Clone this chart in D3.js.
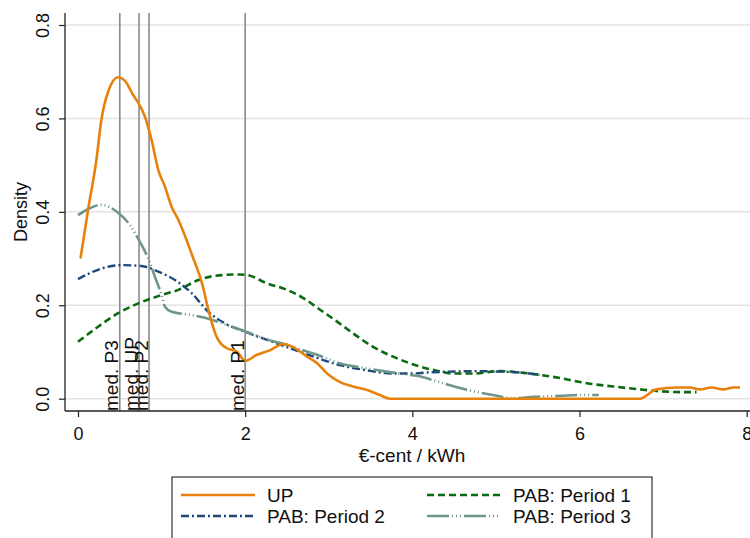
<!DOCTYPE html>
<html>
<head>
<meta charset="utf-8">
<script src="https://cdn.jsdelivr.net/npm/d3@7"></script>
<style>
  html, body { margin: 0; padding: 0; background: #fff; }
  svg { display: block; font-family: "Liberation Sans", Arial, Helvetica, sans-serif; }
</style>
</head>
<body>
<svg id="chart" width="750" height="538"></svg>
<script>
// Kernel density estimates of prices (€-cent / kWh)
const upX = [0.03, 0.12, 0.22, 0.28, 0.36, 0.48, 0.56, 0.66, 0.72, 0.80, 0.88, 0.96, 1.04, 1.12, 1.20, 1.37, 1.49, 1.57, 1.65, 1.78, 1.90, 2.00, 2.14, 2.30, 2.46, 2.58, 2.74, 2.86, 2.98, 3.13, 3.29, 3.45, 3.61, 3.73, 6.72, 6.92, 7.16, 7.32, 7.44, 7.58, 7.72, 7.84, 7.92];
const upY = [0.300, 0.404, 0.511, 0.597, 0.657, 0.688, 0.681, 0.650, 0.634, 0.604, 0.554, 0.490, 0.454, 0.411, 0.383, 0.305, 0.243, 0.183, 0.136, 0.108, 0.101, 0.081, 0.094, 0.104, 0.117, 0.110, 0.090, 0.076, 0.054, 0.036, 0.026, 0.019, 0.008, 0.000, 0.000, 0.020, 0.024, 0.024, 0.020, 0.024, 0.020, 0.024, 0.024];

const p1X = [0.00, 0.24, 0.48, 0.72, 1.00, 1.20, 1.44, 1.64, 1.92, 2.02, 2.26, 2.50, 2.70, 2.90, 3.10, 3.29, 3.53, 3.77, 4.05, 4.29, 4.49, 4.73, 5.05, 5.29, 5.53, 5.77, 6.09, 6.41, 6.72, 6.96, 7.20, 7.40];
const p1Y = [0.122, 0.154, 0.183, 0.204, 0.222, 0.233, 0.254, 0.263, 0.266, 0.265, 0.247, 0.233, 0.215, 0.190, 0.165, 0.140, 0.111, 0.090, 0.071, 0.060, 0.054, 0.054, 0.059, 0.056, 0.051, 0.044, 0.033, 0.026, 0.020, 0.016, 0.014, 0.014];

const p2X = [0.00, 0.24, 0.52, 0.76, 0.96, 1.16, 1.36, 1.56, 1.76, 2.00, 2.26, 2.54, 2.82, 3.13, 3.45, 3.77, 4.01, 4.17, 4.45, 4.73, 5.05, 5.29, 5.52];
const p2Y = [0.256, 0.276, 0.286, 0.284, 0.272, 0.254, 0.226, 0.186, 0.161, 0.143, 0.126, 0.108, 0.090, 0.072, 0.061, 0.054, 0.054, 0.056, 0.058, 0.059, 0.058, 0.056, 0.051];

const p3X = [0.00, 0.10, 0.28, 0.48, 0.62, 0.74, 0.84, 0.92, 1.00, 1.04, 1.12, 1.36, 1.60, 1.84, 2.02, 2.26, 2.42, 2.58, 2.86, 3.13, 3.45, 3.69, 3.97, 4.05, 4.37, 4.65, 4.93, 5.21, 5.45, 5.77, 6.01, 6.23];
const p3Y = [0.393, 0.404, 0.415, 0.398, 0.372, 0.336, 0.300, 0.261, 0.222, 0.197, 0.186, 0.179, 0.169, 0.154, 0.143, 0.127, 0.119, 0.110, 0.094, 0.076, 0.065, 0.058, 0.051, 0.049, 0.033, 0.019, 0.009, 0.001, 0.004, 0.006, 0.008, 0.008];

// Medians of each price distribution
const medianValues = [0.50, 0.73, 0.85, 2.00];
const medianLabels = ["med. P3", "med. UP", "med. P2", "med. P1"];

const xTicks = [0, 2, 4, 6, 8];
const yTicks = [0, 0.2, 0.4, 0.6, 0.8];

const seriesNames = ["UP", "PAB: Period 1", "PAB: Period 2", "PAB: Period 3"];

const svg = d3.select("#chart");
const W = 750;
const plotLeft = 65, plotRight = 750, plotTop = 13, plotBottom = 411;

const x = d3.scaleLinear().domain([0, 8]).range([78, 746.7]);
const y = d3.scaleLinear().domain([0, 0.8]).range([398.7, 25]);

const styles = [
  { color: "#e8810c", dash: null, width: 2.6 },
  { color: "#0b6a10", dash: "7,4", width: 2.6 },
  { color: "#1d4a78", dash: "8,3,2,3", width: 2.4 },
  { color: "#6f968b", dash: "22,3,1,3,1,3,1,3", width: 2.6 }
];

// Horizontal gridlines
svg.append("g").selectAll("line").data(yTicks).join("line")
  .attr("x1", plotLeft).attr("x2", plotRight)
  .attr("y1", d => y(d)).attr("y2", d => y(d))
  .attr("stroke", "#e3e3e3").attr("stroke-width", 1.5);

// Median reference lines
svg.append("g").selectAll("line").data(medianValues).join("line")
  .attr("x1", d => x(d)).attr("x2", d => x(d))
  .attr("y1", plotTop).attr("y2", plotBottom)
  .attr("stroke", "#8a8a8a").attr("stroke-width", 1.6);

// Density curves
const seriesData = [
  d3.zip(upX, upY),
  d3.zip(p1X, p1Y),
  d3.zip(p2X, p2Y),
  d3.zip(p3X, p3Y)
];
const line = d3.line().x(d => x(d[0])).y(d => y(d[1])).curve(d3.curveMonotoneX);

// Draw order: period 1, period 2, period 3, then UP on top
[1, 2, 3, 0].forEach(i => {
  svg.append("path")
    .datum(seriesData[i])
    .attr("d", line)
    .attr("fill", "none")
    .attr("stroke", styles[i].color)
    .attr("stroke-width", styles[i].width)
    .attr("stroke-dasharray", styles[i].dash)
    .attr("stroke-linejoin", "round");
});

// Median labels (rotated, reading upward from the x axis)
svg.append("g").selectAll("text").data(medianValues).join("text")
  .attr("transform", d => `translate(${x(d) - 1.5},${plotBottom}) rotate(-90)`)
  .attr("text-anchor", "start")
  .attr("font-size", 19)
  .attr("fill", "#111")
  .text((d, i) => medianLabels[i]);

// Axes
const yAxis = svg.append("g")
  .attr("transform", `translate(${plotLeft},0)`)
  .call(d3.axisLeft(y).tickValues(yTicks).tickFormat(d3.format(".1f")).tickSize(6).tickSizeOuter(0));
yAxis.select(".domain").remove();
yAxis.selectAll(".tick line").attr("stroke", "#222").attr("stroke-width", 1.2);
yAxis.selectAll(".tick text")
  .attr("x", 0).attr("dy", 0)
  .attr("text-anchor", "middle")
  .attr("transform", "translate(-16,0) rotate(-90)")
  .attr("font-size", 18)
  .attr("font-family", "Liberation Sans, Arial, sans-serif")
  .attr("fill", "#111");

const xAxis = svg.append("g")
  .attr("transform", `translate(0,${plotBottom})`)
  .call(d3.axisBottom(x).tickValues(xTicks).tickFormat(d3.format("d")).tickSize(6).tickSizeOuter(0));
xAxis.select(".domain").remove();
xAxis.selectAll(".tick line").attr("stroke", "#222").attr("stroke-width", 1.2);
xAxis.selectAll(".tick text")
  .attr("y", 16).attr("dy", "0.71em")
  .attr("font-size", 18)
  .attr("font-family", "Liberation Sans, Arial, sans-serif")
  .attr("fill", "#111");

// Axis lines
svg.append("line").attr("x1", plotLeft).attr("x2", plotLeft)
  .attr("y1", plotTop).attr("y2", plotBottom)
  .attr("stroke", "#222").attr("stroke-width", 1.3);
svg.append("line").attr("x1", plotLeft).attr("x2", plotRight)
  .attr("y1", plotBottom).attr("y2", plotBottom)
  .attr("stroke", "#222").attr("stroke-width", 1.3);

// Axis titles
svg.append("text")
  .attr("x", 412).attr("y", 462)
  .attr("text-anchor", "middle")
  .attr("font-size", 19)
  .attr("fill", "#111")
  .text("€-cent / kWh");

svg.append("text")
  .attr("transform", `translate(27,${(plotTop + plotBottom) / 2}) rotate(-90)`)
  .attr("text-anchor", "middle")
  .attr("font-size", 18)
  .attr("fill", "#111")
  .text("Density");

// Legend
const legend = svg.append("g");
legend.append("rect")
  .attr("x", 172).attr("y", 477)
  .attr("width", 480).attr("height", 80)
  .attr("fill", "#fff").attr("stroke", "#333").attr("stroke-width", 1.2);

const legendPos = [
  { lx: 181, ty: 495 },
  { lx: 427, ty: 495 },
  { lx: 181, ty: 516 },
  { lx: 427, ty: 516 }
];
seriesNames.forEach((name, i) => {
  const p = legendPos[i];
  legend.append("line")
    .attr("x1", p.lx).attr("x2", p.lx + 74)
    .attr("y1", p.ty).attr("y2", p.ty)
    .attr("stroke", styles[i].color)
    .attr("stroke-width", styles[i].width)
    .attr("stroke-dasharray", styles[i].dash);
  legend.append("text")
    .attr("x", p.lx + 86).attr("y", p.ty + 7)
    .attr("font-size", 19)
    .attr("fill", "#111")
    .text(name);
});
</script>
</body>
</html>
